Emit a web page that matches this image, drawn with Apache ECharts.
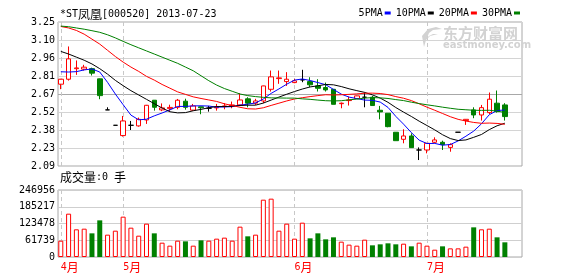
<!DOCTYPE html>
<html><head><meta charset="utf-8">
<script src="https://cdn.jsdelivr.net/npm/echarts@6/dist/echarts.min.js"></script>
<style>html,body{margin:0;padding:0;background:#fff}#c{width:578px;height:276px}</style>
</head><body><div id="c"></div>
<script>
// ---- data ----
const dates = [
 '2013-04-17','2013-04-18','2013-04-19','2013-04-22','2013-04-23','2013-04-24','2013-04-25','2013-04-26',
 '2013-05-02','2013-05-03','2013-05-06','2013-05-07','2013-05-08','2013-05-09','2013-05-10','2013-05-13',
 '2013-05-14','2013-05-15','2013-05-16','2013-05-17','2013-05-20','2013-05-21','2013-05-22','2013-05-23',
 '2013-05-24','2013-05-27','2013-05-28','2013-05-29','2013-05-30','2013-05-31',
 '2013-06-03','2013-06-04','2013-06-05','2013-06-06','2013-06-07','2013-06-13','2013-06-14','2013-06-17',
 '2013-06-18','2013-06-19','2013-06-20','2013-06-21','2013-06-24','2013-06-25','2013-06-26','2013-06-27','2013-06-28',
 '2013-07-01','2013-07-02','2013-07-03','2013-07-04','2013-07-05','2013-07-08','2013-07-09','2013-07-10',
 '2013-07-11','2013-07-12','2013-07-15'
];
const openP = [2.747,2.787,2.872,2.868,2.872,2.790,2.540,2.416,2.333,2.416,2.411,2.459,2.618,2.540,2.550,2.561,
 2.610,2.538,2.565,2.553,2.556,2.566,2.574,2.580,2.629,2.594,2.612,2.706,2.792,2.768,2.760,2.782,2.768,2.733,
 2.720,2.706,2.590,2.615,2.631,2.642,2.642,2.537,2.513,2.360,2.303,2.330,2.217,2.217,2.279,2.279,2.238,2.360,
 2.454,2.540,2.499,2.518,2.594,2.580];
const closeP = [2.787,2.951,2.878,2.884,2.836,2.655,2.540,2.416,2.451,2.416,2.464,2.577,2.561,2.556,2.560,2.618,
 2.561,2.572,2.557,2.553,2.561,2.572,2.580,2.620,2.594,2.612,2.733,2.806,2.798,2.787,2.774,2.782,2.742,2.714,
 2.701,2.585,2.594,2.620,2.653,2.642,2.575,2.524,2.405,2.292,2.330,2.236,2.217,2.271,2.298,2.260,2.260,2.360,
 2.464,2.499,2.558,2.626,2.526,2.486];
const lowP = [2.707,2.776,2.822,2.857,2.817,2.626,2.540,2.416,2.325,2.378,2.405,2.427,2.534,2.530,2.526,2.545,
 2.542,2.534,2.505,2.526,2.534,2.545,2.553,2.572,2.561,2.580,2.594,2.688,2.750,2.733,2.755,2.763,2.723,2.688,
 2.688,2.585,2.553,2.575,2.631,2.561,2.575,2.464,2.400,2.292,2.271,2.236,2.136,2.190,2.271,2.217,2.203,2.360,
 2.419,2.473,2.454,2.507,2.518,2.454];
const highP = [2.790,3.051,2.938,2.903,2.880,2.792,2.561,2.416,2.491,2.451,2.478,2.580,2.618,2.592,2.582,2.628,
 2.630,2.588,2.565,2.572,2.588,2.594,2.607,2.674,2.642,2.629,2.735,2.857,2.857,2.844,2.790,2.863,2.803,2.787,
 2.760,2.706,2.599,2.647,2.655,2.680,2.653,2.572,2.513,2.360,2.384,2.351,2.238,2.271,2.319,2.292,2.271,2.360,
 2.466,2.561,2.580,2.680,2.696,2.594];
const volume = [60200,159700,102000,104400,87200,135100,82300,97000,148700,108100,78600,122900,87200,52800,41800,
 60200,57700,41800,61400,60200,67600,71300,60200,111800,76200,82300,211300,215000,97000,122900,67600,126500,
 68800,87200,65100,72500,56500,45500,41800,63900,43000,46700,50400,46700,49100,39300,52800,41800,27000,39300,
 31900,31900,38100,109300,102000,104400,72500,54100];
const ma5 = [2.847,2.845,2.848,2.862,2.870,2.845,2.762,2.668,2.582,2.498,2.460,2.465,2.492,2.515,2.540,2.568,
 2.568,2.572,2.573,2.571,2.562,2.564,2.566,2.578,2.586,2.596,2.628,2.673,2.709,2.747,2.780,2.789,2.777,2.760,
 2.743,2.705,2.667,2.643,2.631,2.619,2.617,2.603,2.560,2.488,2.425,2.357,2.296,2.269,2.270,2.256,2.261,2.290,
 2.328,2.369,2.428,2.501,2.535,2.539];
const ma10 = [3.011,2.990,2.965,2.940,2.910,2.872,2.828,2.778,2.735,2.695,2.660,2.625,2.590,2.555,2.525,2.516,
 2.518,2.533,2.544,2.558,2.567,2.567,2.569,2.575,2.578,2.578,2.595,2.619,2.643,2.666,2.688,2.708,2.725,2.734,
 2.745,2.742,2.728,2.710,2.695,2.681,2.661,2.635,2.601,2.559,2.522,2.487,2.449,2.414,2.379,2.340,2.309,2.293,
 2.298,2.319,2.342,2.381,2.412,2.433];
const ma20 = [3.212,3.200,3.180,3.150,3.110,3.070,3.020,2.970,2.925,2.885,2.850,2.810,2.780,2.745,2.715,2.685,
 2.665,2.645,2.632,2.620,2.608,2.589,2.575,2.561,2.549,2.547,2.557,2.576,2.594,2.612,2.628,2.638,2.647,2.655,
 2.662,2.660,2.662,2.665,2.669,2.674,2.675,2.672,2.663,2.647,2.634,2.615,2.589,2.562,2.537,2.511,2.485,2.464,
 2.450,2.439,2.432,2.434,2.431,2.424];
const ma30 = [3.215,3.210,3.200,3.190,3.178,3.165,3.145,3.120,3.092,3.065,3.040,3.015,2.990,2.965,2.940,2.915,
 2.885,2.855,2.815,2.775,2.740,2.712,2.690,2.668,2.655,2.647,2.641,2.637,2.636,2.635,2.635,2.629,2.625,2.619,
 2.614,2.612,2.614,2.621,2.627,2.635,2.639,2.637,2.632,2.623,2.615,2.602,2.591,2.581,2.572,2.562,2.553,2.545,
 2.541,2.537,2.536,2.537,2.530,2.519];
const priceTickValues = [2.088,2.233,2.378,2.523,2.668,2.813,2.958,3.103,3.248];
const priceTickLabels = ['2.09','2.23','2.38','2.52','2.67','2.81','2.96','3.10','3.25'];
const volTickValues = [0,61739,123478,185217,246956];
const volTickLabels = ['0','61739','123478','185217','246956'];
const seriesNames = ['5PMA','10PMA','20PMA','30PMA'];

// ---- chart ----
const idx = dates.map((d, i) => i);
const monthStarts = idx.filter(i => i === 0 || dates[i].slice(5, 7) !== dates[i - 1].slice(5, 7));
const monthText = i => String(parseInt(dates[i].slice(5, 7), 10));
const mono = 'DejaVu Sans Mono';
const cjk = 'Noto Sans CJK SC';
const RED = '#ff0000', GREEN = '#008000', BLUE = '#0000ff', BLACK = '#000000';
const xMin = -0.36, xMax = 59.2;
const pick = (vals, labels) => v => { for (let k = 0; k < vals.length; k++) if (Math.abs(vals[k] - v) < 1e-6) return labels[k]; return ''; };

const gridLineColors = ['#d4d4d4','#d4d4d4','#d4d4d4','#d4d4d4','#a8a8a8','#d4d4d4','#d4d4d4','#d4d4d4','#d4d4d4'];
const dashed = {show: true, lineStyle: {color: '#c8c8c8', width: 1, type: [4, 3]}};
const richText = color => ({
  a: {fontFamily: mono, fontSize: 10, fontWeight: 'normal', color, lineHeight: 12},
  b: {fontFamily: cjk, fontSize: 12, fontWeight: 'normal', color, lineHeight: 12}
});

const candleData = idx.map(i => {
  const item = {value: [i, openP[i], closeP[i], lowP[i], highP[i]]};
  if (openP[i] === closeP[i]) item.itemStyle = {color: BLACK, color0: BLACK, borderColor: BLACK, borderColor0: BLACK};
  return item;
});
const volData = idx.map(i => ({
  value: [i, volume[i]],
  itemStyle: closeP[i] < openP[i] ? {color: GREEN} : {color: '#ffffff', borderColor: RED, borderWidth: 1}
}));
const maLine = (name, arr, color) => ({
  name, type: 'line', xAxisIndex: 0, yAxisIndex: 0, data: idx.map(i => [i, arr[i]]),
  showSymbol: false, symbol: 'none', color, lineStyle: {color, width: 1}, z: 4, silent: true
});

const chart = echarts.init(document.getElementById('c'), null, {renderer: 'canvas'});
chart.setOption({
  animation: false,
  backgroundColor: '#ffffff',
  title: [
    {text: '{a|*ST}{b|凤凰}{a|[000520] 2013-07-23}', left: 60, top: 8, padding: 0,
     textStyle: {fontWeight: 'normal', rich: richText(BLACK)}},
    {text: '{b|成交量}{a|:0 }{b|手}', left: 60, top: 171, padding: 0,
     textStyle: {fontWeight: 'normal', rich: richText(BLACK)}}
  ],
  legend: {data: seriesNames, right: 58, top: 8, padding: 0, icon: 'rect', itemWidth: 6, itemHeight: 3,
    itemGap: 5, align: 'right', selectedMode: false,
    textStyle: {fontFamily: mono, fontSize: 10, color: BLACK, padding: [0, -3, 0, 0]}},
  graphic: [
    {type: 'polygon', z: 1, silent: true,
     shape: {points: [[436,27],[428,29],[422,36],[424,47],[426,40],[430,36],[438,34],[433,34],[429,36],[427,38],[429,33],[433,30],[442,29]]},
     style: {fill: '#d2d2d2'}},
    {type: 'text', left: 443, top: 26, z: 1, silent: true,
     style: {text: '东方财富网', font: 'bold 15px "Noto Sans CJK SC"', fill: '#d2d2d2'}},
    {type: 'text', left: 443, top: 40, z: 1, silent: true,
     style: {text: 'eastmoney.com', font: 'bold 10px "DejaVu Sans"', fill: '#d2d2d2'}}
  ],
  grid: [
    {left: 58, top: 22, width: 464, height: 144, show: true, borderColor: '#a8a8a8', borderWidth: 1, backgroundColor: 'transparent'},
    {left: 58, top: 190, width: 464, height: 67, show: true, borderColor: '#a8a8a8', borderWidth: 1, backgroundColor: 'transparent'}
  ],
  xAxis: [
    {type: 'value', gridIndex: 0, min: xMin, max: xMax, axisLine: {show: false},
     axisTick: {show: false, customValues: monthStarts}, axisLabel: {show: false}, splitLine: dashed},
    {type: 'value', gridIndex: 1, min: xMin, max: xMax, axisLine: {show: false},
     axisTick: {show: false, customValues: monthStarts}, splitLine: dashed,
     axisLabel: {show: true, customValues: monthStarts, align: 'left', margin: 4,
       formatter: v => '{a|' + monthText(Math.round(v)) + '}{b|月}', rich: richText(RED)}}
  ],
  yAxis: [
    {type: 'value', gridIndex: 0, min: priceTickValues[0], max: priceTickValues[priceTickValues.length - 1],
     axisLine: {show: false}, axisTick: {show: false, customValues: priceTickValues},
     axisLabel: {customValues: priceTickValues, formatter: pick(priceTickValues, priceTickLabels),
       fontFamily: mono, fontSize: 10, color: BLACK, margin: 3, padding: [0, 0, 5, 0]},
     splitLine: {show: true, lineStyle: {color: gridLineColors, width: 1}}},
    {type: 'value', gridIndex: 1, min: volTickValues[0], max: volTickValues[volTickValues.length - 1],
     axisLine: {show: false}, axisTick: {show: false, customValues: volTickValues},
     axisLabel: {customValues: volTickValues, formatter: pick(volTickValues, volTickLabels),
       fontFamily: mono, fontSize: 10, color: BLACK, margin: 3, padding: [6, 0, 0, 0]},
     splitLine: {show: true, lineStyle: {color: '#cfcfcf', width: 1}}}
  ],
  series: [
    {type: 'candlestick', name: 'K', xAxisIndex: 0, yAxisIndex: 0, barWidth: 5, data: candleData,
     encode: {x: 0, y: [1, 2, 3, 4]}, z: 3, silent: true,
     itemStyle: {color: '#ffffff', color0: GREEN, borderColor: RED, borderColor0: GREEN, borderWidth: 1}},
    maLine(seriesNames[0], ma5, BLUE),
    maLine(seriesNames[1], ma10, BLACK),
    maLine(seriesNames[2], ma20, RED),
    maLine(seriesNames[3], ma30, GREEN),
    {type: 'bar', name: 'VOL', xAxisIndex: 1, yAxisIndex: 1, barWidth: 5, data: volData, silent: true}
  ]
});
</script>
</body></html>
